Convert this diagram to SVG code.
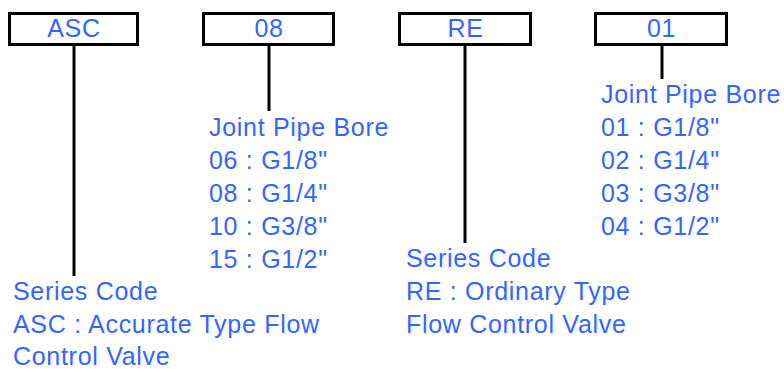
<svg xmlns="http://www.w3.org/2000/svg" width="784" height="369" viewBox="0 0 784 369">
<style>
.box{fill:#fff;stroke:#000;stroke-width:3}
.ln{stroke:#000;stroke-width:3;fill:none}
text{font-family:"Liberation Sans",Arial,sans-serif;font-size:25px;letter-spacing:0.7px;fill:#3366ff}
.c{text-anchor:middle}
</style>
<rect width="784" height="369" fill="#fff"/>
<g id="connectors">
<line class="ln" x1="74" y1="45" x2="74" y2="276"/>
<line class="ln" x1="269" y1="45" x2="269" y2="111"/>
<line class="ln" x1="465" y1="45" x2="465" y2="243"/>
<line class="ln" x1="662" y1="45" x2="662" y2="79"/>
</g>
<g id="node-asc">
<rect class="box" x="9.5" y="13.5" width="128" height="31"/>
<text class="c" x="74" y="37">ASC</text>
</g>
<g id="node-08">
<rect class="box" x="203.5" y="13.5" width="130" height="31"/>
<text class="c" x="269" y="37">08</text>
</g>
<g id="node-re">
<rect class="box" x="399.5" y="13.5" width="131" height="31"/>
<text class="c" x="465.5" y="37">RE</text>
</g>
<g id="node-01">
<rect class="box" x="595.5" y="13.5" width="131" height="31"/>
<text class="c" x="661.5" y="37">01</text>
</g>
<g id="label-asc">
<text x="13" y="300">Series Code</text>
<text x="13" y="333">ASC : Accurate Type Flow</text>
<text x="13" y="365">Control Valve</text>
</g>
<g id="label-08">
<text x="209" y="136">Joint Pipe Bore</text>
<text x="209" y="169">06 : G1/8"</text>
<text x="209" y="202">08 : G1/4"</text>
<text x="209" y="235">10 : G3/8"</text>
<text x="209" y="268">15 : G1/2"</text>
</g>
<g id="label-re">
<text x="406" y="267">Series Code</text>
<text x="406" y="300">RE : Ordinary Type</text>
<text x="406" y="333">Flow Control Valve</text>
</g>
<g id="label-01">
<text x="601" y="103">Joint Pipe Bore</text>
<text x="601" y="136">01 : G1/8"</text>
<text x="601" y="169">02 : G1/4"</text>
<text x="601" y="202">03 : G3/8"</text>
<text x="601" y="235">04 : G1/2"</text>
</g>
</svg>
